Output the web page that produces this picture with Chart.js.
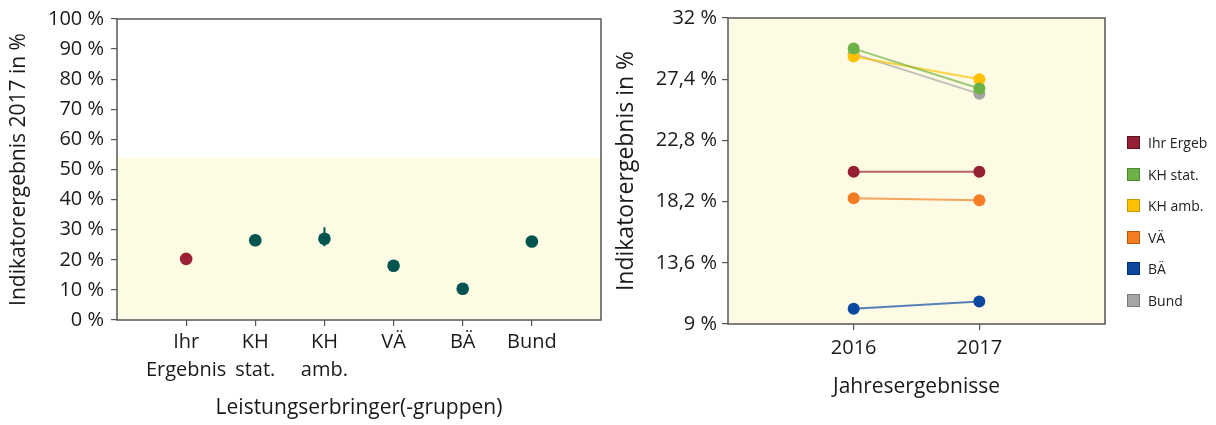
<!DOCTYPE html>
<html>
<head>
<meta charset="utf-8">
<script src="https://cdn.jsdelivr.net/npm/chart.js@4/dist/chart.umd.min.js"></script>
<style>
  body { margin: 0; background: #fff; width: 1216px; height: 425px; position: relative; overflow: hidden; font-family: 'Open Sans', sans-serif; }
  #leftChart { position: absolute; left: 0; top: 0; }
  #rightChart { position: absolute; left: 610px; top: 0; }
  #legend { position: absolute; left: 1127px; top: 127px; margin: 0; padding: 0; list-style: none; }
  #legend li { height: 31.5px; display: flex; align-items: center; font-size: 14px; color: #222; white-space: nowrap; }
  #legend span.box { width: 11px; height: 11px; border: 1px solid; margin-right: 8px; display: inline-block; }
</style>
</head>
<body>
<canvas id="leftChart" width="610" height="425"></canvas>
<canvas id="rightChart" width="606" height="425"></canvas>
<ul id="legend"></ul>
<script>
// Left chart: results 2017 per group
const groupLabels = [["Ihr", "Ergebnis"], ["KH", "stat."], ["KH", "amb."], ["VÄ"], ["BÄ"], ["Bund"]];
const groupValues = [20.3, 26.5, 27.0, 18.0, 10.4, 26.1];
const errLow = [null, null, 24.5, null, null, null];
const errHigh = [null, null, 30.8, null, null, null];
const groupColors = ["#9b2335", "#00544f", "#00544f", "#00544f", "#00544f", "#00544f"];
const leftTicks = [0, 10, 20, 30, 40, 50, 60, 70, 80, 90, 100];
const referenceMax = 54;

// Right chart: yearly results
const years = ["2016", "2017"];
const rightTicks = [9, 13.6, 18.2, 22.8, 27.4, 32];
const seriesNames = ["Ihr Ergeb", "KH stat.", "KH amb.", "VÄ", "BÄ", "Bund"];
const ihrValues = [20.45, 20.45];
const khStatValues = [29.7, 26.7];
const khAmbValues = [29.1, 27.4];
const vaeValues = [18.45, 18.3];
const baeValues = [10.15, 10.7];
const bundValues = [29.3, 26.3];
const seriesColors = ["#962033", "#6cb246", "#ffc000", "#f47d23", "#0c48a0", "#a5a5a5"];
const seriesBorders = ["#5e1420", "#4e8a30", "#c89600", "#b85a12", "#062f6e", "#7a7a7a"];

const axisColor = "#555";
const textColor = "#1a1a1a";
const bgYellow = "#fdfbe3";

// background + frame plugin
const framePlugin = {
  id: "frame",
  beforeDatasetsDraw(chart, args, opts) {
    const { ctx, chartArea: a, scales } = chart;
    ctx.save();
    ctx.fillStyle = bgYellow;
    if (opts.bandMax != null) {
      const yTop = scales.y.getPixelForValue(opts.bandMax);
      ctx.fillRect(a.left, yTop, a.right - a.left, a.bottom - yTop);
    } else {
      ctx.fillRect(a.left, a.top, a.right - a.left, a.bottom - a.top);
    }
    ctx.strokeStyle = axisColor;
    ctx.lineWidth = 1.5;
    ctx.strokeRect(a.left, a.top, a.right - a.left, a.bottom - a.top);
    ctx.restore();
  }
};

// error bar plugin
const errorBarPlugin = {
  id: "errorBars",
  afterDatasetsDraw(chart) {
    const { ctx, scales } = chart;
    ctx.save();
    ctx.strokeStyle = "#00544f";
    ctx.lineWidth = 2;
    errLow.forEach((lo, i) => {
      if (lo == null) return;
      const x = scales.x.getPixelForValue(i + 1);
      ctx.beginPath();
      ctx.moveTo(x, scales.y.getPixelForValue(lo));
      ctx.lineTo(x, scales.y.getPixelForValue(errHigh[i]));
      ctx.stroke();
    });
    ctx.restore();
  }
};

const tickGrid = { display: true, drawOnChartArea: false, drawTicks: true, tickLength: 6, color: axisColor, lineWidth: 1.2 };

new Chart(document.getElementById("leftChart"), {
  type: "scatter",
  data: {
    datasets: [{
      data: groupValues.map((v, i) => ({ x: i + 1, y: v })),
      pointRadius: 6.3,
      pointHoverRadius: 6.3,
      pointBackgroundColor: groupColors,
      pointBorderColor: groupColors,
      pointBorderWidth: 0
    }]
  },
  options: {
    responsive: false,
    animation: false,
    layout: { padding: { top: 18, right: 9, left: 0, bottom: 0 } },
    plugins: { legend: { display: false }, tooltip: { enabled: false }, frame: { bandMax: referenceMax } },
    scales: {
      x: {
        type: "linear", min: 0, max: 7,
        afterBuildTicks: s => { s.ticks = groupLabels.map((_, i) => ({ value: i + 1 })); },
        afterFit: s => { s.height = 105; },
        grid: tickGrid,
        border: { display: false },
        ticks: {
          autoSkip: false, maxRotation: 0, padding: 2,
          color: textColor,
          font: { family: "'Open Sans'", size: 20, lineHeight: 1.42 },
          callback: v => groupLabels[v - 1]
        },
        title: { display: true, text: "Leistungserbringer(-gruppen)", color: textColor, font: { family: "'Open Sans'", size: 21 }, padding: { top: 0, bottom: 4 } }
      },
      y: {
        min: 0, max: 100,
        afterBuildTicks: s => { s.ticks = leftTicks.map(v => ({ value: v })); },
        afterFit: s => { s.width = 117; },
        grid: tickGrid,
        border: { display: false },
        ticks: { padding: 7, color: textColor, font: { family: "'Open Sans'", size: 20 }, callback: v => v + " %" },
        title: { display: true, text: "Indikatorergebnis 2017 in %", color: textColor, font: { family: "'Open Sans'", size: 21 }, padding: { top: 6, bottom: 0 } }
      }
    }
  },
  plugins: [framePlugin, errorBarPlugin]
});

const rightSeries = [ihrValues, khStatValues, khAmbValues, vaeValues, baeValues, bundValues];

new Chart(document.getElementById("rightChart"), {
  type: "line",
  data: {
    datasets: rightSeries.map((vals, k) => ({
      label: seriesNames[k],
      data: vals.map((v, i) => ({ x: i + 1, y: v })),
      borderColor: seriesColors[k] + "b0",
      borderWidth: 2,
      pointRadius: 6,
      pointHoverRadius: 6,
      pointBackgroundColor: seriesColors[k],
      pointBorderColor: seriesColors[k],
      pointBorderWidth: 0,
      tension: 0
    }))
  },
  options: {
    responsive: false,
    animation: false,
    layout: { padding: { top: 18, right: 111, left: 0, bottom: 0 } },
    plugins: { legend: { display: false }, tooltip: { enabled: false } },
    scales: {
      x: {
        type: "linear", min: 0, max: 3,
        afterBuildTicks: s => { s.ticks = years.map((_, i) => ({ value: i + 1 })); },
        afterFit: s => { s.height = 101; },
        grid: tickGrid,
        border: { display: false },
        ticks: { autoSkip: false, maxRotation: 0, padding: 6, color: textColor, font: { family: "'Open Sans'", size: 20 }, callback: v => years[v - 1] },
        title: { display: true, text: "Jahresergebnisse", color: textColor, font: { family: "'Open Sans'", size: 21 }, padding: { top: 0, bottom: 25 } }
      },
      y: {
        min: 9, max: 32,
        afterBuildTicks: s => { s.ticks = rightTicks.map(v => ({ value: v })); },
        afterFit: s => { s.width = 118; },
        grid: tickGrid,
        border: { display: false },
        ticks: { padding: 5, color: textColor, font: { family: "'Open Sans'", size: 20 }, callback: v => String(v).replace(".", ",") + " %" },
        title: { display: true, text: "Indikatorergebnis in %", color: textColor, font: { family: "'Open Sans'", size: 23 }, padding: { top: 3, bottom: 0 } }
      }
    }
  },
  plugins: [framePlugin]
});

// HTML legend
const legendEl = document.getElementById("legend");
seriesNames.forEach((name, k) => {
  const li = document.createElement("li");
  li.innerHTML = '<span class="box" style="background:' + seriesColors[k] + ';border-color:' + seriesBorders[k] + '"></span>' + name;
  legendEl.appendChild(li);
});
</script>
</body>
</html>
